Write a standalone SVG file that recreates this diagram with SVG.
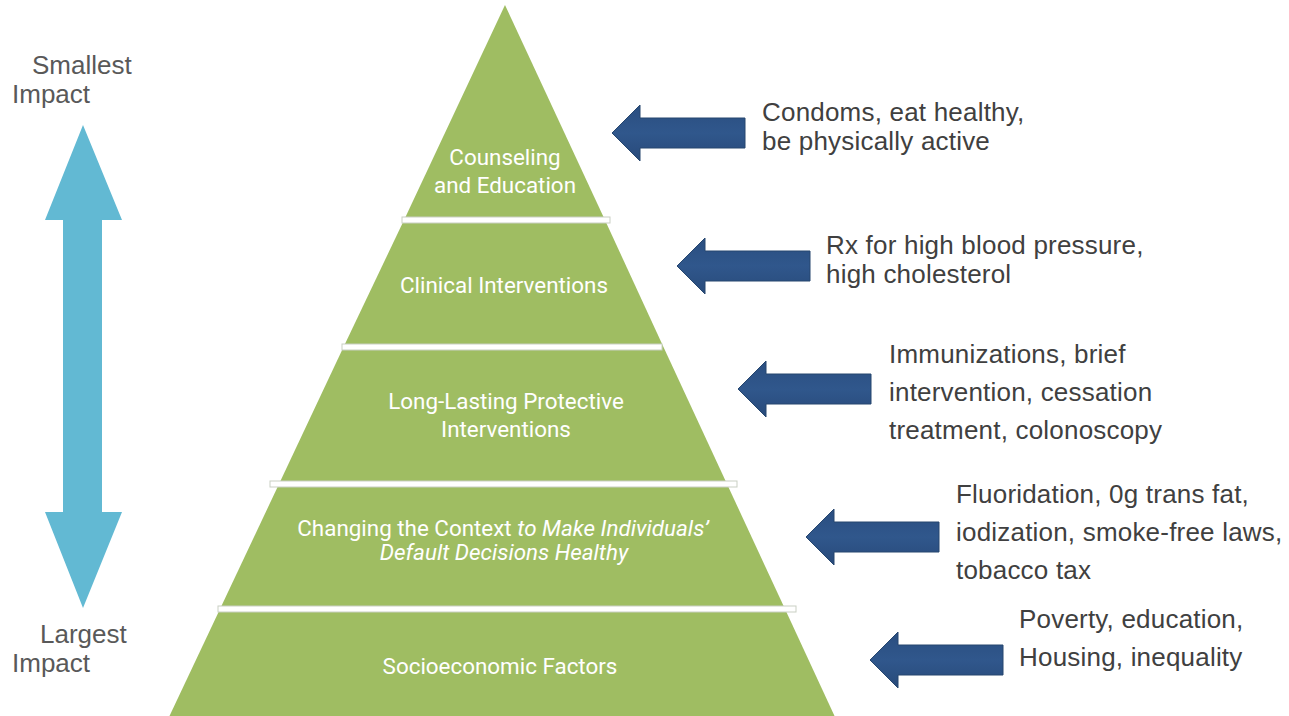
<svg xmlns="http://www.w3.org/2000/svg" width="1289" height="716" viewBox="0 0 1289 716">
  <defs>
    <style>
      .tier { fill: #9fbd62; }
      .bar { fill: #ffffff; stroke: #c9cfc3; stroke-width: 1; }
      .tlabel { font-family: Roboto, "Liberation Sans", sans-serif; font-size: 22.4px; fill: #ffffff; text-anchor: middle; }
      .note { font-family: "Liberation Sans", Arial, sans-serif; font-size: 26px; letter-spacing: 0.2px; fill: #404040; }
      .side { font-family: "Liberation Sans", Arial, sans-serif; font-size: 26px; fill: #595959; }
      .ptr { fill: url(#navy); stroke: #27476f; stroke-width: 1; }
    </style>
    <linearGradient id="navy" x1="0" y1="0" x2="0" y2="1">
      <stop offset="0" stop-color="#2a4e80"/>
      <stop offset="0.5" stop-color="#30578c"/>
      <stop offset="1" stop-color="#284a7a"/>
    </linearGradient>
    <!-- left-pointing block arrow, tip at origin -->
    <path id="pointer" d="M0,0 L28,-28 L28,-15 L133,-15 L133,15 L28,15 L28,28 Z"/>
  </defs>

  <rect width="1289" height="716" fill="#ffffff"/>

  <!-- impact scale -->
  <g id="impact-scale">
    <polygon points="83,125 122,220 102,220 102,512 122,512 83,608 45,512 63,512 63,220 45,220" fill="#62b9d3"/>
    <text class="side" x="32" y="74">Smallest</text>
    <text class="side" x="12" y="103">Impact</text>
    <text class="side" x="40" y="643">Largest</text>
    <text class="side" x="12" y="672">Impact</text>
  </g>

  <!-- pyramid tiers -->
  <g id="tier-counseling">
    <polygon class="tier" points="505,5 604,218 405,218"/>
    <text class="tlabel" x="505" y="165">Counseling</text>
    <text class="tlabel" x="505" y="193">and Education</text>
  </g>
  <g id="tier-clinical">
    <polygon class="tier" points="405,218 604,218 663,346 344,346"/>
    <text class="tlabel" x="504" y="293">Clinical Interventions</text>
  </g>
  <g id="tier-protective">
    <polygon class="tier" points="344,346 663,346 727,484 279,484"/>
    <text class="tlabel" x="506" y="409">Long-Lasting Protective</text>
    <text class="tlabel" x="506" y="437">Interventions</text>
  </g>
  <g id="tier-context">
    <polygon class="tier" points="279,484 727,484 785,609 220,609"/>
    <text class="tlabel" x="503" y="536" font-size="23.5">Changing the Context <tspan font-style="italic">to Make Individuals’</tspan></text>
    <text class="tlabel" x="504" y="560" font-size="23.5" font-style="italic">Default Decisions Healthy</text>
  </g>
  <g id="tier-socioeconomic">
    <polygon class="tier" points="220,609 785,609 835,717 169,717"/>
    <text class="tlabel" x="500" y="674">Socioeconomic Factors</text>
  </g>

  <!-- tier dividers -->
  <g id="dividers">
    <rect class="bar" x="402" y="217" width="208" height="6"/>
    <rect class="bar" x="342" y="344" width="320" height="6"/>
    <rect class="bar" x="270" y="481" width="467" height="6"/>
    <rect class="bar" x="218" y="606" width="578" height="6"/>
  </g>

  <!-- connectors: pointers from examples to tiers -->
  <g id="connectors">
    <use href="#pointer" class="ptr" transform="translate(612,133)"/>
    <use href="#pointer" class="ptr" transform="translate(677,266)"/>
    <use href="#pointer" class="ptr" transform="translate(738,389)"/>
    <use href="#pointer" class="ptr" transform="translate(806,537)"/>
    <use href="#pointer" class="ptr" transform="translate(870,660)"/>
  </g>

  <!-- example notes -->
  <g id="note-counseling">
    <text class="note" x="762" y="121">Condoms, eat healthy,</text>
    <text class="note" x="762" y="150">be physically active</text>
  </g>
  <g id="note-clinical">
    <text class="note" x="826" y="254">Rx for high blood pressure,</text>
    <text class="note" x="826" y="283">high cholesterol</text>
  </g>
  <g id="note-protective">
    <text class="note" x="889" y="363">Immunizations, brief</text>
    <text class="note" x="889" y="401">intervention, cessation</text>
    <text class="note" x="889" y="439">treatment, colonoscopy</text>
  </g>
  <g id="note-context">
    <text class="note" x="956" y="503">Fluoridation, 0g trans fat,</text>
    <text class="note" x="956" y="541">iodization, smoke-free laws,</text>
    <text class="note" x="956" y="579">tobacco tax</text>
  </g>
  <g id="note-socioeconomic">
    <text class="note" x="1019" y="628">Poverty, education,</text>
    <text class="note" x="1019" y="666">Housing, inequality</text>
  </g>
</svg>
